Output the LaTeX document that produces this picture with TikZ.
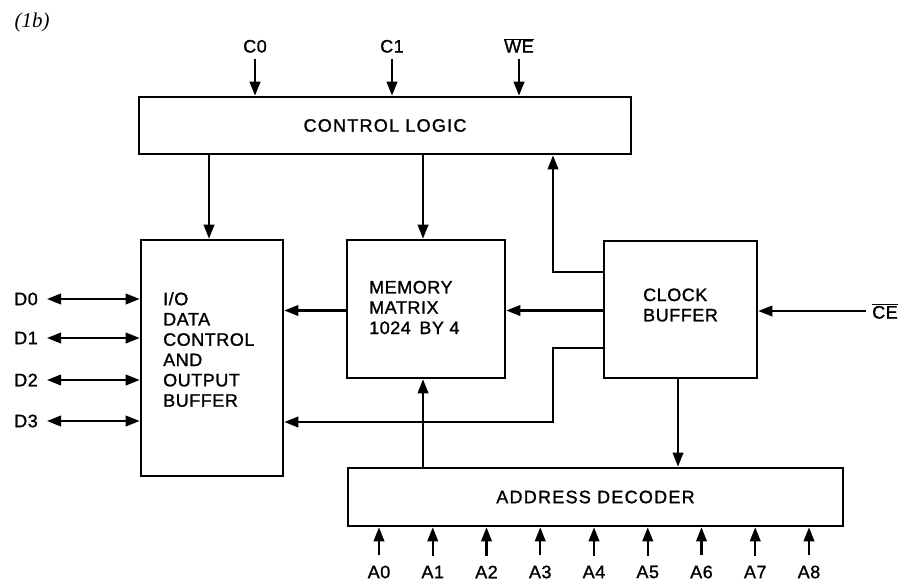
\documentclass[tikz,border=0pt]{standalone}
\usepackage{fontspec}
\setmainfont{Liberation Sans}[LetterSpace=3,FakeBold=1.2]
\newfontfamily\widefont{Liberation Sans}[LetterSpace=7,FakeBold=1.2]
\newfontfamily\figfont{Liberation Serif}
\usetikzlibrary{arrows.meta}
\newcommand\bfs{\fontsize{18}{20.3}\selectfont}
\begin{document}
\begin{tikzpicture}[x=1pt,y=-1pt,
  box/.style={draw, line width=2.6pt, inner sep=0pt},
  conn/.style={line width=2.2pt, -{Triangle[length=14pt,width=10.5pt]}},
  dbl/.style={line width=2.2pt, {Triangle[length=14pt,width=10.5pt]}-{Triangle[length=14pt,width=10.5pt]}},
  lbl/.style={font=\bfs, inner sep=0pt},
  txt/.style={font=\bfs, align=left, inner sep=0pt}
]
\useasboundingbox[fill=white] (0,0) rectangle (908,581);

\node[font=\figfont\itshape\fontsize{21}{24}\selectfont, inner sep=0pt] (fig) at (32,22) {(1b)};

% boxes
\node[box, minimum width=492pt, minimum height=57pt, font=\widefont\bfs] (ctl) at (385,125.5) {CONTROL LOGIC};
\node[box, minimum width=142pt, minimum height=236pt] (io) at (212,358) {};
\node[txt, anchor=west] (iotext) at (163,349.5) {I/O\\DATA\\CONTROL\\AND\\OUTPUT\\BUFFER};
\node[box, minimum width=158pt, minimum height=138pt] (mem) at (426,309) {};
\node[txt, anchor=west] (memtext) at (369,307.5) {MEMORY\\MATRIX\\1024\,\ BY 4};
\node[box, minimum width=153pt, minimum height=137pt] (clk) at (680.5,309.5) {};
\node[txt, anchor=west] (clktext) at (643,305) {CLOCK\\BUFFER};
\node[box, minimum width=495pt, minimum height=58pt, font=\widefont\bfs] (dec) at (595.5,497) {ADDRESS DECODER};

% top inputs
\node[lbl, anchor=base] (c0) at (255,52.5) {C0};
\node[lbl, anchor=base] (c1) at (392,52.5) {C1};
\node[lbl, anchor=base] (we) at (519,52.5) {$\overline{\mbox{WE}}$};
\foreach \n in {c0,c1,we}
  \draw[conn, shorten <=6pt] (\n.base) -- (\n.base |- ctl.north);

% column coordinates
\coordinate (xio) at (209,0);
\coordinate (xmem) at (423,0);
\coordinate (xbus) at (553,0);
\coordinate (xdec) at (678,0);
\coordinate (bend) at (553,422);

% control logic outputs
\draw[conn] (ctl.south -| xio) -- (io.north -| xio);
\draw[conn] (ctl.south -| xmem) -- (mem.north -| xmem);

% clock buffer outputs
\draw[conn] (clk.west |- 0,272) -| (ctl.south -| xbus);
\draw[conn] (clk.west |- 0,310.5) -- (mem.east |- 0,310.5);
\draw[conn] (mem.west |- 0,310.5) -- (io.east |- 0,310.5);
\draw[conn] (clk.west |- 0,348) -| (bend) -- (io.east |- bend);
\draw[conn] (clk.south -| xdec) -- (dec.north -| xdec);
\draw[conn] (dec.north -| xmem) -- (mem.south -| xmem);

% chip enable
\node[lbl, anchor=base] (ce) at (885,318.5) {$\overline{\mbox{CE}}$};
\path (ce.west |- 0,311) ++(-6,0) coordinate (cestart);
\draw[conn] (cestart) -- (clk.east |- cestart);

% data lines
\foreach \i/\y in {0/299,1/338,2/380,3/421}{
  \node[lbl, anchor=east] (d\i) at (38,\y) {D\i};
  \path (d\i.east) ++(9,0) coordinate (ds\i);
  \draw[dbl] (ds\i) -- (io.west |- ds\i);
}

% address lines
\foreach \i in {0,...,8}{
  \node[lbl] (a\i) at ({379+53.75*\i},572) {A\i};
  \draw[conn, shorten <=10pt] (a\i.north) -- (a\i.north |- dec.south);
}
\end{tikzpicture}
\end{document}
